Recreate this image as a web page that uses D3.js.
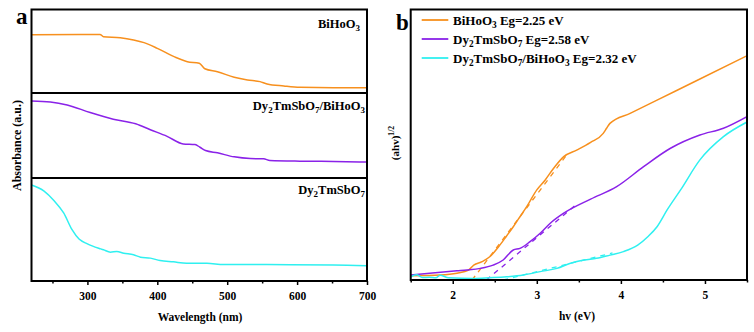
<!DOCTYPE html>
<html>
<head>
<meta charset="utf-8">
<script src="https://cdn.jsdelivr.net/npm/d3@7"></script>
<style>
  body { margin: 0; background: #fff; }
  text { font-family: "Liberation Serif", "Times New Roman", serif; font-weight: bold; }
</style>
</head>
<body>
<div id="chart"></div>
<script>
// panel a - absorbance spectra (arbitrary units, each row its own scale)
var biWl = [220, 318, 323, 347, 366, 381, 400, 424, 443, 460, 468, 486, 510, 529, 547, 557, 581, 604, 652, 700];
var biAbs = [0.698, 0.702, 0.674, 0.662, 0.635, 0.603, 0.535, 0.435, 0.375, 0.356, 0.291, 0.255, 0.188, 0.156, 0.136, 0.108, 0.084, 0.068, 0.063, 0.063];

var compWl = [220, 247, 271, 304, 337, 369, 390, 414, 437, 454, 461, 469, 486, 510, 533, 552, 561, 604, 652, 700];
var compAbs = [0.907, 0.895, 0.86, 0.77, 0.692, 0.638, 0.568, 0.49, 0.401, 0.393, 0.362, 0.323, 0.296, 0.249, 0.229, 0.226, 0.206, 0.198, 0.195, 0.187];

var dyWl = [220, 238, 252, 266, 278, 288, 300, 319, 323, 333, 342, 352, 366, 376, 390, 404, 423, 442, 471, 495, 557, 652, 700];
var dyAbs = [0.932, 0.873, 0.782, 0.661, 0.498, 0.407, 0.361, 0.312, 0.303, 0.280, 0.286, 0.270, 0.254, 0.231, 0.222, 0.198, 0.186, 0.173, 0.173, 0.159, 0.159, 0.156, 0.149];

var wlTicks = [300, 400, 500, 600, 700];
var wlMinor = [250, 350, 450, 550, 650];
var rowNames = ["BiHoO_3", "Dy_2TmSbO_7/BiHoO_3", "Dy_2TmSbO_7"];

// panel b - Tauc plots
var biEv = [1.5, 1.85, 2.05, 2.19, 2.25, 2.35, 2.44, 2.56, 2.62, 2.72, 2.78, 2.88, 3.0, 3.1, 3.2, 3.32, 3.48, 3.64, 3.79, 3.83, 3.87, 4.11, 4.43, 4.94, 5.5];
var biTauc = [1.6, 1.85, 2.5, 3.7, 5.5, 6.8, 8.6, 12.9, 15.4, 19.7, 22.5, 27.1, 33.3, 37.0, 41.3, 45.6, 48.1, 50.9, 54.2, 56.1, 57.9, 61.6, 66.5, 74.3, 82.9];

var dyEv = [1.5, 2.05, 2.17, 2.33, 2.48, 2.6, 2.72, 2.8, 2.92, 3.04, 3.16, 3.32, 3.64, 3.95, 4.27, 4.59, 4.94, 5.22, 5.5];
var dyTauc = [1.85, 3.4, 3.7, 4.3, 5.5, 7.4, 11.1, 11.7, 14.2, 17.3, 21.0, 24.7, 29.9, 34.5, 41.9, 48.7, 53.6, 56.1, 60.4];

var compEv = [1.5, 1.57, 1.64, 1.72, 1.8, 1.85, 1.95, 2.25, 2.44, 2.64, 2.84, 3.04, 3.24, 3.4, 3.56, 3.71, 3.87, 4.03, 4.2, 4.32, 4.43, 4.55, 4.71, 4.94, 5.22, 5.5];
var compTauc = [1.2, 1.9, 0.9, 1.0, 0.8, 1.8, 0.8, 0.6, 0.85, 1.2, 1.85, 3.1, 4.3, 6.2, 7.4, 8.0, 9.2, 10.5, 12.9, 16.0, 19.7, 25.9, 33.3, 44.4, 53.0, 58.4];

// tangent lines (start on baseline at Eg)
var biFitEv = [2.23, 3.35];
var biFitTauc = [0, 46];
var dyFitEv = [2.40, 3.45];
var dyFitTauc = [0, 27.4];
var compFitEv = [2.6, 3.9];
var compFitTauc = [0, 10];

var evTicks = [2, 3, 4, 5];
var evMinor = [1.5, 2.5, 3.5, 4.5, 5.5];
var legendNames = ["BiHoO_3 Eg=2.25 eV", "Dy_2TmSbO_7 Eg=2.58 eV", "Dy_2TmSbO_7/BiHoO_3 Eg=2.32 eV"];

var orange = "#f7901e";
var purple = "#8a22e8";
var cyan = "#2ff0f0";

var svg = d3.select("#chart").append("svg")
  .attr("width", 754)
  .attr("height", 332);

// "_d" in a name becomes a subscript digit
function formula(sel, str) {
  var parts = str.split(/_(\d)/);
  parts.forEach(function (part, i) {
    if (part === "") return;
    if (i % 2 === 1) {
      sel.append("tspan").attr("font-size", "0.72em").attr("dy", 3).text(part);
    } else {
      sel.append("tspan").attr("dy", i > 0 ? -3 : 0).text(part);
    }
  });
}

function styleTicks(g) {
  g.select(".domain").remove();
  g.selectAll(".tick line").attr("stroke", "#000").attr("stroke-width", 1.5);
  g.selectAll(".tick text").attr("font-size", 11.5).attr("fill", "#000")
    .attr("font-family", "Liberation Serif").attr("font-weight", "bold");
}

//Panel a
var xa = d3.scaleLinear().domain([220, 700]).range([31.5, 367]);
var rows = [
  { wl: biWl, abs: biAbs, color: orange, top: 9.5, bottom: 93 },
  { wl: compWl, abs: compAbs, color: purple, top: 93, bottom: 178 },
  { wl: dyWl, abs: dyAbs, color: cyan, top: 178, bottom: 281 }
];

rows.forEach(function (r) {
  var y = d3.scaleLinear().domain([0, 1]).range([r.bottom, r.top]);
  var line = d3.line()
    .x(function (d) { return xa(d[0]); })
    .y(function (d) { return y(d[1]); })
    .curve(d3.curveMonotoneX);
  svg.append("path")
    .attr("d", line(d3.zip(r.wl, r.abs)))
    .attr("fill", "none")
    .attr("stroke", r.color)
    .attr("stroke-width", 1.5);
});

svg.append("g")
  .attr("transform", "translate(0,281)")
  .call(d3.axisBottom(xa).tickValues(wlTicks).tickSize(4).tickPadding(7).tickFormat(d3.format("d")))
  .call(styleTicks);
svg.append("g")
  .attr("transform", "translate(0,281)")
  .call(d3.axisBottom(xa).tickValues(wlMinor).tickSize(2.5).tickFormat(""))
  .call(styleTicks);

svg.append("rect")
  .attr("x", 31.5).attr("y", 9.5)
  .attr("width", 367 - 31.5).attr("height", 281 - 9.5)
  .attr("fill", "none").attr("stroke", "#000").attr("stroke-width", 2);
[93, 178].forEach(function (yy) {
  svg.append("line")
    .attr("x1", 31.5).attr("x2", 367).attr("y1", yy).attr("y2", yy)
    .attr("stroke", "#000").attr("stroke-width", 2);
});

var rowLabelPos = [[360, 28], [365, 110], [365, 194]];
rowNames.forEach(function (n, i) {
  var t = svg.append("text").attr("x", rowLabelPos[i][0]).attr("y", rowLabelPos[i][1])
    .attr("text-anchor", "end").attr("font-size", 12.5);
  formula(t, n);
});

svg.append("text").attr("x", 200).attr("y", 321)
  .attr("text-anchor", "middle").attr("font-size", 11.5)
  .text("Wavelength (nm)");
svg.append("text")
  .attr("transform", "translate(21,145.5) rotate(-90)")
  .attr("text-anchor", "middle").attr("font-size", 12)
  .text("Absorbance (a.u.)");
svg.append("text").attr("x", 16).attr("y", 24).attr("font-size", 23).text("a");

//Panel b
var xb = d3.scaleLinear().domain([1.5, 5.5]).range([410.7, 747]);
var yb = d3.scaleLinear().domain([0, 100]).range([280, 9.5]);
var lineB = d3.line()
  .x(function (d) { return xb(d[0]); })
  .y(function (d) { return yb(d[1]); })
  .curve(d3.curveMonotoneX);
var fitLine = d3.line()
  .x(function (d) { return xb(d[0]); })
  .y(function (d) { return yb(d[1]); });

var tauc = [
  { ev: biEv, v: biTauc, fe: biFitEv, fv: biFitTauc, color: orange },
  { ev: dyEv, v: dyTauc, fe: dyFitEv, fv: dyFitTauc, color: purple },
  { ev: compEv, v: compTauc, fe: compFitEv, fv: compFitTauc, color: cyan }
];

svg.append("clipPath").attr("id", "clipb").append("rect")
  .attr("x", 410.7).attr("y", 9.5).attr("width", 747 - 410.7).attr("height", 280 - 9.5);
var gb = svg.append("g").attr("clip-path", "url(#clipb)");

tauc.forEach(function (s) {
  gb.append("path")
    .attr("d", fitLine(d3.zip(s.fe, s.fv)))
    .attr("fill", "none").attr("stroke", s.color)
    .attr("stroke-width", 1.3).attr("stroke-dasharray", "5,5");
  gb.append("path")
    .attr("d", lineB(d3.zip(s.ev, s.v)))
    .attr("fill", "none").attr("stroke", s.color).attr("stroke-width", 1.5);
});

svg.append("g")
  .attr("transform", "translate(0,280)")
  .call(d3.axisBottom(xb).tickValues(evTicks).tickSize(4).tickPadding(7).tickFormat(d3.format("d")))
  .call(styleTicks);
svg.append("g")
  .attr("transform", "translate(0,280)")
  .call(d3.axisBottom(xb).tickValues(evMinor).tickSize(2.5).tickFormat(""))
  .call(styleTicks);

svg.append("rect")
  .attr("x", 410.7).attr("y", 9.5)
  .attr("width", 747 - 410.7).attr("height", 280 - 9.5)
  .attr("fill", "none").attr("stroke", "#000").attr("stroke-width", 2);

// legend
tauc.forEach(function (s, i) {
  var ly = 20 + i * 19;
  svg.append("line")
    .attr("x1", 421.7).attr("x2", 448.3).attr("y1", ly).attr("y2", ly)
    .attr("stroke", s.color).attr("stroke-width", 1.8);
  var t = svg.append("text").attr("x", 453).attr("y", ly + 4.5).attr("font-size", 13);
  formula(t, legendNames[i]);
});

svg.append("text").attr("x", 577).attr("y", 320)
  .attr("text-anchor", "middle").attr("font-size", 11.5)
  .text("hv (eV)");
var yl = svg.append("text")
  .attr("transform", "translate(399,143) rotate(-90)")
  .attr("text-anchor", "middle").attr("font-size", 11);
yl.append("tspan").text("(ahv)");
yl.append("tspan").attr("font-size", "0.7em").attr("dy", -5).text("1/2");
svg.append("text").attr("x", 396).attr("y", 30).attr("font-size", 23).text("b");
</script>
</body>
</html>
